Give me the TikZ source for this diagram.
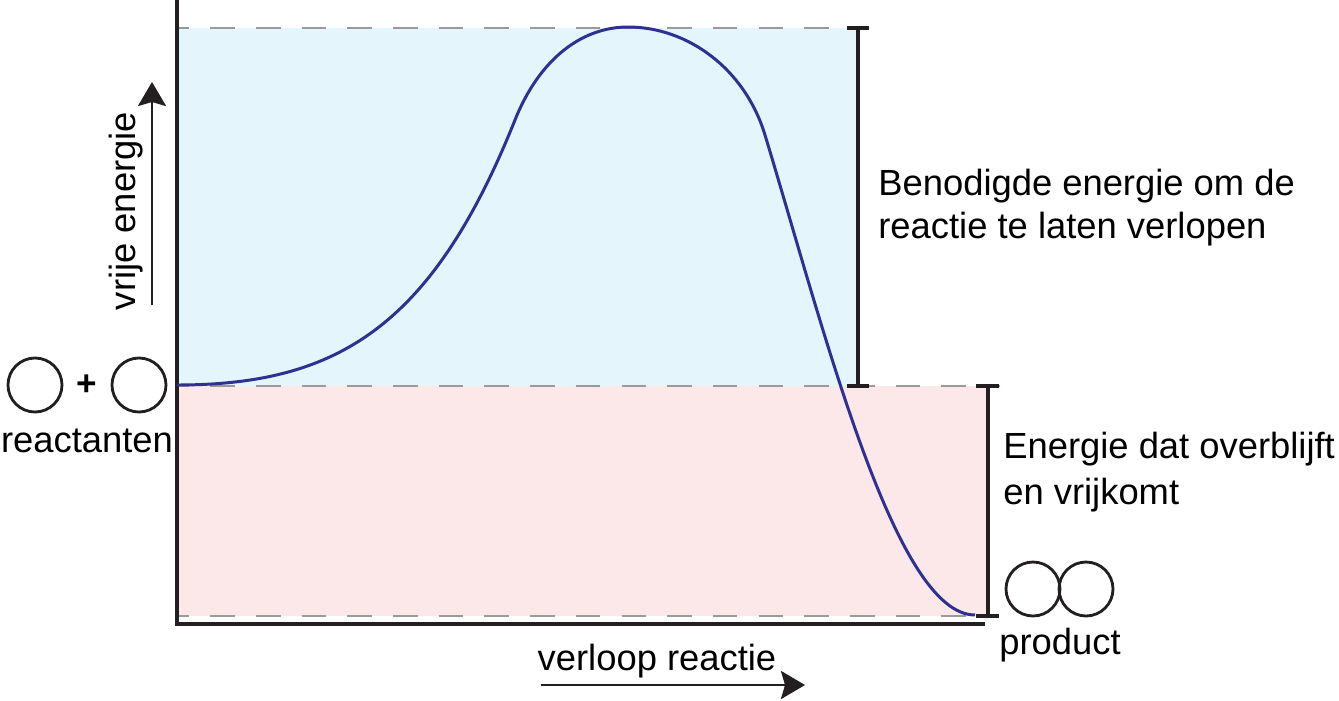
\documentclass[tikz,border=0pt]{standalone}
\usepackage{fontspec}
\setmainfont{Liberation Sans}
\usetikzlibrary{arrows.meta,positioning}
\definecolor{Curve}{HTML}{2E3192}
\definecolor{Ink}{HTML}{231F20}
\definecolor{SkyFill}{HTML}{E4F5FC}
\definecolor{RoseFill}{HTML}{FCE7E9}
\definecolor{Guide}{HTML}{9A9A9A}
\tikzset{
  axisline/.style={line width=2.2pt,draw=Ink},
  guideline/.style={line width=1.1pt,draw=Guide,dash pattern=on 14pt off 12pt,dash phase=7pt},
  bracketline/.style={line width=2.2pt,draw=Ink},
  axisarrow/.style={-{Stealth[length=4.8mm,width=5.6mm,inset=0.8mm]},line width=1.6pt,draw=Ink},
  molecule/.style={circle,minimum size=1.08cm,inner sep=0pt,draw=Ink,line width=1.6pt},
  labeltext/.style={font=\fontsize{20.7}{24.4}\selectfont,text=black,inner sep=0pt,align=left},
}

\begin{document}
\begin{tikzpicture}[x=0.02cm,y=-0.02cm]
  \useasboundingbox (0,0) rectangle (1339,700);
  % bands
  \fill[SkyFill] (177,28) rectangle (858,386);
  \fill[RoseFill] (177,386) rectangle (988,616);
  % dashed levels
  \draw[guideline] (177,28) -- (852,28);
  \draw[guideline] (177,386) -- (1000,386);
  \draw[guideline] (177,616) -- (977,616);
  % axes
  \coordinate (ytop) at (177,0);
  \coordinate (origin) at (177,624);
  \coordinate (xend) at (985,624);
  \draw[axisline] (ytop) -- (origin) -- (xend);
  % brackets
  \draw[bracketline] (847,28) -- (869,28) (858,28) -- (858,386) (847,386) -- (869,386);
  \draw[bracketline] (976,386) -- (999,386) (988,386) -- (988,616) (976,616) -- (999,616);
  % energy curve
  \coordinate (start) at (177,385);
  \coordinate (peak) at (628,27);
  \coordinate (finish) at (975,615);
  \draw[Curve,line width=1.7pt] (start)
    .. controls (337,385) and (432,327) .. (515,120)
    .. controls (540,57.5) and (583,27) .. (peak)
    .. controls (688,27) and (745,69) .. (765,135)
    .. controls (825,333) and (895,615) .. (finish);
  % reactants and product
  \node[molecule] (reactA) at (35,385) {};
  \node[font=\fontsize{20}{24}\selectfont\bfseries,inner sep=0pt] (plus) at (87,385) {+};
  \node[molecule] (reactB) at (139,385) {};
  \node[labeltext,anchor=base] (reactlbl) at (87,452) {reactanten};
  \node[molecule] (prodA) at (1033,589) {};
  \node[molecule] (prodB) at (1086,589) {};
  \node[labeltext,anchor=base] (prodlbl) at (1060,654) {product};
  % axis arrows
  \coordinate (yarrow0) at (152,305);
  \coordinate (yarrow1) at (152,82);
  \draw[axisarrow] (yarrow0) -- (yarrow1);
  \node[labeltext,rotate=90,anchor=base] (ylbl) at (135,211) {vrije energie};
  \coordinate (xarrow0) at (541,685);
  \coordinate (xarrow1) at (805,685);
  \draw[axisarrow] (xarrow0) -- (xarrow1);
  \node[labeltext,anchor=base] (xlbl) at (657,670) {verloop reactie};
  % explanations
  \node[labeltext,anchor=north west] (needlbl) at (878,169) {Benodigde energie om de\\reactie te laten verlopen};
  \node[labeltext,anchor=north west,font=\fontsize{20.7}{26.2}\selectfont] (freelbl) at (1003,432) {Energie dat overblijft\\en vrijkomt};
\end{tikzpicture}
\end{document}
